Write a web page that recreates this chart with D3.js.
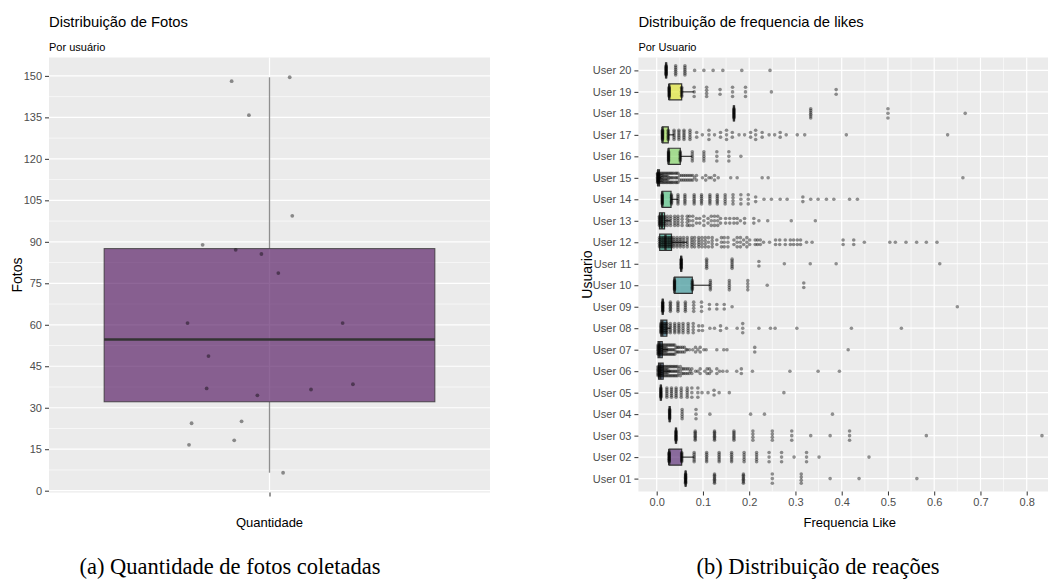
<!DOCTYPE html>
<html>
<head>
<meta charset="utf-8">
<script src="https://cdn.jsdelivr.net/npm/d3@7"></script>
<style>
  body { margin: 0; background: #fff; }
  text { font-family: "Liberation Sans", Arial, sans-serif; }
  .caption { font-family: "Liberation Serif", "Times New Roman", serif; }
</style>
</head>
<body>
<svg id="chart" width="1048" height="579"></svg>
<script>
// ---- data: photos per user (left) ----
var fotosValues = [148.1, 149.5, 135.8, 99.4, 88.9, 87.1, 85.6, 78.7, 60.6, 60.6,
                   48.7, 37.0, 36.6, 38.5, 34.5, 24.4, 25.1, 16.6, 18.2, 6.5];
// horizontal jitter of each point, in category widths
var fotosJitter = [-0.103, 0.055, -0.056, 0.062, -0.182, -0.092, -0.022, 0.024, -0.223, 0.199,
                   -0.166, -0.171, 0.113, 0.227, -0.033, -0.212, -0.076, -0.219, -0.096, 0.037];
var fotosTicks = [0, 15, 30, 45, 60, 75, 90, 105, 120, 135, 150];

// ---- data: like frequency per user (right) ----
var users = ['User 01', 'User 02', 'User 03', 'User 04', 'User 05', 'User 06', 'User 07',
             'User 08', 'User 09', 'User 10', 'User 11', 'User 12', 'User 13', 'User 14',
             'User 15', 'User 16', 'User 17', 'User 18', 'User 19', 'User 20'];
var likeQ1  = [0.0625, 0.027, 0.0417, 0.028, 0.009, 0.004, 0.003, 0.009, 0.013, 0.0385,
               0.053, 0.0065, 0.006, 0.012, 0.002, 0.0256, 0.0125, 0.167, 0.027, 0.0204];
var likeMed = [0.0625, 0.027, 0.0417, 0.028, 0.009, 0.008, 0.006, 0.012, 0.013, 0.0385,
               0.053, 0.019, 0.011, 0.012, 0.003, 0.0256, 0.0125, 0.167, 0.027, 0.0204];
var likeQ3  = [0.0625, 0.054, 0.0417, 0.028, 0.009, 0.014, 0.012, 0.022, 0.013, 0.077,
               0.053, 0.032, 0.017, 0.031, 0.006, 0.051, 0.025, 0.167, 0.054, 0.0204];
var likeHi  = [0.0625, 0.081, 0.0417, 0.028, 0.009, 0.030, 0.025, 0.030, 0.013, 0.116,
               0.053, 0.066, 0.030, 0.046, 0.010, 0.077, 0.0375, 0.167, 0.081, 0.0204];
// [value, number of photos at that value] for each user
var likePoints = [
  [[0.0625,12],[0.125,8],[0.1875,8],[0.25,3],[0.3125,4],[0.375,1],[0.4375,1],[0.5625,1]],
  [[0.027,12],[0.054,10],[0.081,6],[0.108,6],[0.135,6],[0.162,6],[0.189,5],[0.216,5],[0.243,3],
   [0.27,3],[0.297,1],[0.324,3],[0.351,1],[0.459,1]],
  [[0.0417,10],[0.0833,8],[0.125,8],[0.167,7],[0.208,4],[0.25,4],[0.292,3],[0.333,1],[0.375,1],
   [0.417,3],[0.583,1],[0.833,1]],
  [[0.028,10],[0.055,5],[0.085,3],[0.115,1],[0.203,1],[0.233,1],[0.38,1]],
  [[0.009,10],[0.022,6],[0.032,6],[0.042,6],[0.053,5],[0.066,5],[0.076,3],[0.089,3],[0.098,1],
   [0.111,1],[0.124,2],[0.135,1],[0.157,1],[0.275,1]],
  [[0.003,8],[0.006,6],[0.009,5],[0.012,5],[0.015,4],[0.018,4],[0.021,4],[0.024,4],
   [0.027,3],[0.030,3],[0.033,3],[0.036,3],[0.039,3],[0.042,3],[0.045,3],[0.048,2],[0.051,3],
   [0.055,2],[0.058,2],[0.062,2],[0.066,2],[0.070,2],[0.073,1],[0.076,2],[0.084,1],[0.089,1],
   [0.094,2],[0.104,1],[0.109,2],[0.114,2],[0.118,1],[0.130,2],[0.136,1],[0.143,1],[0.152,1],
   [0.173,1],[0.183,2],[0.207,1],[0.288,1],[0.349,1],[0.395,1]],
  [[0.003,8],[0.006,6],[0.009,5],[0.012,5],[0.015,4],[0.018,4],[0.021,4],[0.024,3],
   [0.027,3],[0.030,3],[0.033,3],[0.036,3],[0.039,3],[0.042,2],[0.045,2],[0.048,2],[0.052,2],
   [0.056,2],[0.060,2],[0.064,1],[0.066,1],[0.071,1],[0.078,1],[0.084,2],[0.089,1],[0.094,2],
   [0.102,1],[0.107,1],[0.130,1],[0.145,1],[0.152,1],[0.212,2],[0.414,1]],
  [[0.009,8],[0.012,6],[0.016,5],[0.019,5],[0.022,5],[0.0295,6],[0.039,6],[0.048,6],[0.057,5],
   [0.068,5],[0.079,4],[0.091,2],[0.099,2],[0.115,1],[0.125,1],[0.138,2],[0.151,1],[0.174,1],
   [0.186,3],[0.221,1],[0.246,1],[0.256,1],[0.303,1],[0.421,1],[0.529,1]],
  [[0.013,12],[0.0296,7],[0.046,6],[0.062,6],[0.080,4],[0.097,3],[0.114,2],[0.130,2],[0.146,2],
   [0.163,1],[0.650,1]],
  [[0.0385,10],[0.077,8],[0.116,6],[0.157,5],[0.197,4],[0.239,1],[0.318,2]],
  [[0.053,12],[0.108,6],[0.163,6],[0.221,2],[0.276,1],[0.332,1],[0.388,1],[0.612,1]],
  [[0.006,6],[0.010,5],[0.013,5],[0.016,5],[0.019,5],[0.023,5],[0.026,5],[0.029,5],[0.032,5],
   [0.037,6],[0.044,6],[0.051,6],[0.058,5],[0.066,5],[0.076,5],[0.082,4],[0.091,5],[0.098,4],
   [0.105,4],[0.112,3],[0.120,4],[0.130,2],[0.140,3],[0.146,3],[0.154,3],[0.167,2],[0.174,3],
   [0.181,3],[0.188,2],[0.195,3],[0.201,2],[0.213,2],[0.218,2],[0.224,2],[0.231,1],[0.244,1],
   [0.257,2],[0.266,2],[0.278,2],[0.289,2],[0.296,2],[0.304,2],[0.311,2],[0.324,1],[0.336,1],
   [0.403,2],[0.426,2],[0.449,1],[0.504,1],[0.516,1],[0.539,1],[0.562,1],[0.583,1],[0.606,1]],
  [[0.006,8],[0.011,6],[0.017,6],[0.023,5],[0.030,5],[0.039,5],[0.046,5],[0.055,4],[0.066,4],
   [0.071,3],[0.078,3],[0.086,2],[0.093,2],[0.102,3],[0.111,2],[0.118,3],[0.125,3],[0.132,3],
   [0.138,2],[0.149,2],[0.158,2],[0.167,2],[0.174,2],[0.181,1],[0.190,2],[0.210,2],[0.221,1],
   [0.240,1],[0.291,1],[0.343,1]],
  [[0.012,10],[0.032,8],[0.046,6],[0.061,6],[0.081,6],[0.097,6],[0.115,6],[0.131,6],[0.148,5],
   [0.165,4],[0.182,3],[0.198,3],[0.214,2],[0.232,1],[0.248,1],[0.267,1],[0.282,1],[0.316,2],
   [0.333,1],[0.349,1],[0.367,1],[0.383,1],[0.417,1],[0.434,1]],
  [[0.002,8],[0.003,8],[0.006,6],[0.009,5],[0.012,5],[0.015,4],[0.018,4],[0.021,4],
   [0.024,4],[0.027,3],[0.030,3],[0.033,3],[0.036,3],[0.040,3],[0.043,3],[0.046,3],[0.050,2],
   [0.054,2],[0.058,2],[0.062,2],[0.066,2],[0.070,2],[0.074,2],[0.078,2],[0.082,1],[0.086,2],
   [0.099,1],[0.106,2],[0.113,1],[0.118,1],[0.125,2],[0.133,1],[0.160,1],[0.174,1],[0.228,1],
   [0.241,1],[0.662,1]],
  [[0.0256,10],[0.051,8],[0.077,5],[0.102,5],[0.130,3],[0.156,3],[0.182,1]],
  [[0.0125,10],[0.025,7],[0.0375,6],[0.048,6],[0.059,6],[0.072,5],[0.0865,2],[0.0987,1],[0.113,3],
   [0.125,1],[0.138,2],[0.151,3],[0.1635,2],[0.178,1],[0.190,1],[0.203,2],[0.214,3],[0.228,2],
   [0.243,1],[0.255,1],[0.267,2],[0.280,1],[0.304,1],[0.320,1],[0.410,1],[0.629,1]],
  [[0.167,10],[0.333,6],[0.5,3],[0.667,1]],
  [[0.027,10],[0.054,8],[0.081,3],[0.108,4],[0.137,2],[0.164,3],[0.192,3],[0.248,1],[0.388,2]],
  [[0.0204,12],[0.041,6],[0.061,6],[0.082,1],[0.102,1],[0.122,1],[0.143,1],[0.184,1],[0.245,1]]
];
var likeTicks = [0, 0.1, 0.2, 0.3, 0.4, 0.5, 0.6, 0.7, 0.8];

var svg = d3.select('#chart');
var panelBg = '#EBEBEB', gridCol = '#FFFFFF', axisTextCol = '#4D4D4D', tickCol = '#333333';

function styleAxis(g) {
    g.select('.domain').remove();
    g.selectAll('.tick line').attr('stroke', tickCol).attr('stroke-width', 1);
    g.selectAll('.tick text').attr('fill', axisTextCol).style('font-size', '11px');
}

// =========================== left panel ===========================
var L = {left: 49, right: 490, top: 57.5, bottom: 492.5};
var fMin = d3.min(fotosValues), fMax = d3.max(fotosValues), fPad = (fMax - fMin) * 0.05;
var yF = d3.scaleLinear().domain([fMin - fPad, fMax + fPad]).range([L.bottom, L.top]);
var xF = d3.scaleLinear().domain([0.4, 1.6]).range([L.left, L.right]);

var gl = svg.append('g');
gl.append('rect').attr('x', L.left).attr('y', L.top)
    .attr('width', L.right - L.left).attr('height', L.bottom - L.top).attr('fill', panelBg);

// minor + major grid
var fMinor = fotosTicks.slice(0, -1).map(function(t, i) { return (t + fotosTicks[i + 1]) / 2; });
gl.selectAll('.fminor').data(fMinor).enter().append('line')
    .attr('x1', L.left).attr('x2', L.right)
    .attr('y1', function(d) { return yF(d); }).attr('y2', function(d) { return yF(d); })
    .attr('stroke', gridCol).attr('stroke-width', 0.6);
gl.selectAll('.fmajor').data(fotosTicks).enter().append('line')
    .attr('x1', L.left).attr('x2', L.right)
    .attr('y1', function(d) { return yF(d); }).attr('y2', function(d) { return yF(d); })
    .attr('stroke', gridCol).attr('stroke-width', 1.2);
gl.append('line').attr('x1', xF(1)).attr('x2', xF(1)).attr('y1', L.top).attr('y2', L.bottom)
    .attr('stroke', gridCol).attr('stroke-width', 1.2);

// box stats (R type-7 quantiles, same as d3.quantile)
var fs = fotosValues.slice().sort(d3.ascending);
var fq1 = d3.quantile(fs, 0.25), fmed = d3.quantile(fs, 0.5), fq3 = d3.quantile(fs, 0.75);
var fiqr = fq3 - fq1;
var fLo = d3.min(fs.filter(function(v) { return v >= fq1 - 1.5 * fiqr; }));
var fHi = d3.max(fs.filter(function(v) { return v <= fq3 + 1.5 * fiqr; }));

gl.append('line').attr('x1', xF(1)).attr('x2', xF(1)).attr('y1', yF(fq3)).attr('y2', yF(fHi))
    .attr('stroke', '#333').attr('stroke-opacity', 0.55).attr('stroke-width', 1.3);
gl.append('line').attr('x1', xF(1)).attr('x2', xF(1)).attr('y1', yF(fq1)).attr('y2', yF(fLo))
    .attr('stroke', '#333').attr('stroke-opacity', 0.55).attr('stroke-width', 1.3);
gl.append('rect').attr('x', xF(0.55)).attr('width', xF(1.45) - xF(0.55))
    .attr('y', yF(fq3)).attr('height', yF(fq1) - yF(fq3))
    .attr('fill', '#440154').attr('fill-opacity', 0.6)
    .attr('stroke', '#333').attr('stroke-opacity', 0.8).attr('stroke-width', 1);
gl.append('line').attr('x1', xF(0.55)).attr('x2', xF(1.45)).attr('y1', yF(fmed)).attr('y2', yF(fmed))
    .attr('stroke', '#333').attr('stroke-width', 2.4);

gl.selectAll('.fpt').data(fotosValues).enter().append('circle')
    .attr('cx', function(d, i) { return xF(1 + fotosJitter[i]); })
    .attr('cy', function(d) { return yF(d); })
    .attr('r', 1.9).attr('fill', '#000').attr('fill-opacity', 0.42);

gl.append('g').attr('transform', 'translate(' + L.left + ',0)')
    .call(d3.axisLeft(yF).tickValues(fotosTicks).tickSize(4).tickPadding(3))
    .call(styleAxis);
gl.append('g').attr('transform', 'translate(0,' + L.bottom + ')')
    .call(d3.axisBottom(xF).tickValues([1]).tickFormat('').tickSize(4))
    .call(styleAxis);

gl.append('text').attr('x', L.left).attr('y', 27).text('Distribuição de Fotos')
    .style('font-size', '14.8px').attr('fill', '#000');
gl.append('text').attr('x', L.left).attr('y', 51).text('Por usuário')
    .style('font-size', '11px').attr('fill', '#000');
gl.append('text').attr('transform', 'translate(17,' + ((L.top + L.bottom) / 2) + ') rotate(-90)')
    .attr('text-anchor', 'middle').attr('dy', '0.35em').text('Fotos')
    .style('font-size', '14px').attr('fill', '#000');
gl.append('text').attr('x', (L.left + L.right) / 2).attr('y', 527).attr('text-anchor', 'middle')
    .text('Quantidade').style('font-size', '13px').attr('fill', '#000');

// =========================== right panel ===========================
var R = {left: 638.4, right: 1061.2, top: 57.5, bottom: 491.5};
var allLikes = [];
likePoints.forEach(function(p) { p.forEach(function(d) { allLikes.push(d[0]); }); });
allLikes = allLikes.concat(likeQ1, likeHi);
var lMin = d3.min(allLikes), lMax = d3.max(allLikes), lPad = (lMax - lMin) * 0.05;
var xL = d3.scaleLinear().domain([lMin - lPad, lMax + lPad]).range([R.left, R.right]);
var yL = d3.scalePoint().domain(users).range([R.bottom, R.top]).padding(0.6);
var boxH = yL.step() * 0.75;
var color = function(i) { return d3.interpolateViridis(i / (users.length - 1)); };

var gr = svg.append('g');
gr.append('rect').attr('x', R.left).attr('y', R.top)
    .attr('width', R.right - R.left).attr('height', R.bottom - R.top).attr('fill', panelBg);

var lMinor = [];
for (var k = 0; k < likeTicks.length; k++) lMinor.push(likeTicks[k] + 0.05);
gr.selectAll('.lminor').data(lMinor.filter(function(v) { return v < xL.domain()[1]; })).enter().append('line')
    .attr('x1', function(d) { return xL(d); }).attr('x2', function(d) { return xL(d); })
    .attr('y1', R.top).attr('y2', R.bottom)
    .attr('stroke', gridCol).attr('stroke-width', 0.6);
gr.selectAll('.lmajor').data(likeTicks).enter().append('line')
    .attr('x1', function(d) { return xL(d); }).attr('x2', function(d) { return xL(d); })
    .attr('y1', R.top).attr('y2', R.bottom)
    .attr('stroke', gridCol).attr('stroke-width', 1.2);
gr.selectAll('.umajor').data(users).enter().append('line')
    .attr('x1', R.left).attr('x2', R.right)
    .attr('y1', function(d) { return yL(d); }).attr('y2', function(d) { return yL(d); })
    .attr('stroke', gridCol).attr('stroke-width', 1.2);

// boxes
users.forEach(function(u, i) {
    var cy = yL(u), y0 = cy - boxH / 2, y1 = cy + boxH / 2;
    if (likeHi[i] > likeQ3[i]) {
        gr.append('line').attr('x1', xL(likeQ3[i])).attr('x2', xL(likeHi[i]))
            .attr('y1', cy).attr('y2', cy).attr('stroke', '#333').attr('stroke-width', 1.2);
    }
    var x0 = xL(likeQ1[i]), x1 = xL(likeQ3[i]);
    gr.append('path')
        .attr('d', 'M' + x0 + ',' + y0 + 'H' + x1 + 'V' + y1 + 'H' + x0 + 'Z')
        .attr('fill', color(i)).attr('fill-opacity', 0.6)
        .attr('stroke', '#333').attr('stroke-width', 1.2);
    gr.append('line').attr('x1', xL(likeMed[i])).attr('x2', xL(likeMed[i]))
        .attr('y1', y0).attr('y2', y1).attr('stroke', '#333').attr('stroke-width', 2.4);
});

// jittered photos: n photos at the same value are stacked over the row
var flat = [];
likePoints.forEach(function(pts, i) {
    pts.forEach(function(p) {
        var n = p[1], spread = Math.min(4.6, (n - 1) * 2.3);
        for (var j = 0; j < n; j++) {
            var dy = n === 1 ? 0 : -spread + 2 * spread * j / (n - 1);
            flat.push({user: users[i], v: p[0], dy: dy});
        }
    });
});
gr.selectAll('.lpt').data(flat).enter().append('circle')
    .attr('cx', function(d) { return xL(d.v); })
    .attr('cy', function(d) { return yL(d.user) + d.dy; })
    .attr('r', 1.8).attr('fill', '#000').attr('fill-opacity', 0.42);

gr.append('g').attr('transform', 'translate(' + R.left + ',0)')
    .call(d3.axisLeft(yL).tickSize(4).tickPadding(3))
    .call(styleAxis);
gr.append('g').attr('transform', 'translate(0,' + R.bottom + ')')
    .call(d3.axisBottom(xL).tickValues(likeTicks).tickFormat(d3.format('.1f')).tickSize(4).tickPadding(3))
    .call(styleAxis);

gr.append('text').attr('x', R.left).attr('y', 27).text('Distribuição de frequencia de likes')
    .style('font-size', '14.8px').attr('fill', '#000');
gr.append('text').attr('x', R.left).attr('y', 51).text('Por Usuario')
    .style('font-size', '11px').attr('fill', '#000');
gr.append('text').attr('transform', 'translate(587,' + ((R.top + R.bottom) / 2) + ') rotate(-90)')
    .attr('text-anchor', 'middle').attr('dy', '0.35em').text('Usuario')
    .style('font-size', '14px').attr('fill', '#000');
gr.append('text').attr('x', (R.left + R.right) / 2).attr('y', 527).attr('text-anchor', 'middle')
    .text('Frequencia Like').style('font-size', '13px').attr('fill', '#000');

// sub-figure captions
svg.append('text').attr('class', 'caption').attr('x', 230).attr('y', 574).attr('text-anchor', 'middle')
    .text('(a)  Quantidade de fotos coletadas').style('font-size', '22.5px').attr('fill', '#000');
svg.append('text').attr('class', 'caption').attr('x', 818).attr('y', 574).attr('text-anchor', 'middle')
    .text('(b)  Distribuição de reações').style('font-size', '22.5px').attr('fill', '#000');
</script>
</body>
</html>
